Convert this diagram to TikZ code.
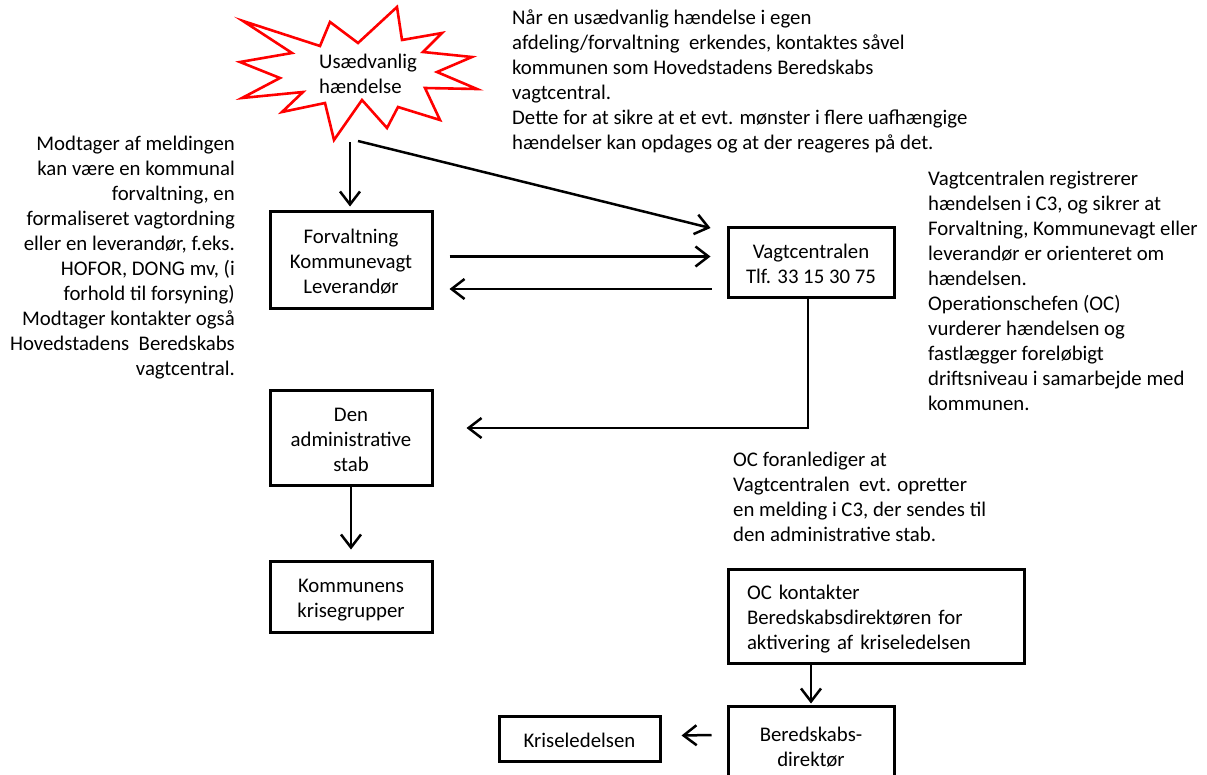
\documentclass[tikz,border=0pt]{standalone}
\usepackage{fontspec}
\setmainfont{Carlito}
\usetikzlibrary{arrows.meta,calc}
\newcommand\mytopstrut{\rule[-7.5pt]{0pt}{32pt}}
\newcommand\mybotstrut{\rule[-7.5pt]{0pt}{7.5pt}}
\begin{document}
\begin{tikzpicture}[x=1pt,y=-1pt,
  base/.style={font=\fontsize{20.8}{25}\selectfont, text=black},
  txt/.style={base, inner sep=0pt, align=left, execute at begin node=\strut},
  boxn/.style={base, draw, line width=3pt, align=center, inner sep=0pt},
  arr/.style={line width=2.5pt, -{Straight Barb[length=13pt,width=20pt]}}]
\useasboundingbox (0,0) rectangle (1207,774);
\fill[white] (0,0) rectangle (1207,774);
\clip (0,0) rectangle (1207,774);

% star
\draw[red, line width=2.6pt, line join=miter, fill=white]
  (243,21) -- (320,46) -- (330,22) -- (358,43) -- (397,7) -- (402,40) --
  (442,33) -- (423,52) -- (472,57) -- (437,72) -- (477,89) -- (425,88) --
  (440,120) -- (398,107) -- (387,128) -- (362,100) -- (334,140) -- (325,103) --
  (282,112) -- (303,92) -- (242,98) -- (280,78) -- (240,62) -- (292,53) -- cycle;
\node[txt, anchor=north west] (star) at (319,53.5) {Usædvanlig\\hændelse};

% boxes
\node[boxn, minimum width=162pt, minimum height=97pt] (forv) at (351,259.5) {\mytopstrut Forvaltning\\Kommunevagt\\Leverandør\mybotstrut};
\node[boxn, minimum width=166pt, minimum height=70pt] (vagt) at (811,262.5) {\mytopstrut Vagtcentralen\\Tlf. 33 15 30 75\mybotstrut};
\node[boxn, minimum width=162pt, minimum height=95pt] (admin) at (351,437.5) {\mytopstrut Den\\administrative\\stab\mybotstrut};
\node[boxn, minimum width=162pt, minimum height=71pt] (komm) at (351,596.5) {\mytopstrut Kommunens\\krisegrupper\mybotstrut};
\node[boxn, align=left, inner xsep=19pt, text width=258pt, minimum height=94pt] (ockont) at (876,616) {\mytopstrut OC kontakter\\Beredskabsdirektøren for\\aktivering af kriseledelsen\mybotstrut};
\node[boxn, minimum width=166pt, minimum height=78pt] (bered) at (811,745) {\mytopstrut Beredskabs-\\direktør\mybotstrut};
\node[boxn, minimum width=161pt, minimum height=45pt] (krise) at (579.5,739) {\mytopstrut Kriseledelsen\mybotstrut};

% texts
\node[txt, anchor=north west] (t1) at (512,9.5) {Når en usædvanlig hændelse i egen\\afdeling/forvaltning\ \ erkendes, kontaktes såvel\\kommunen som Hovedstadens Beredskabs\\vagtcentral.\\Dette for at sikre at et evt. mønster i flere uafhængige\\hændelser kan opdages og at der reageres på det.};
\node[txt, align=right, anchor=north east] (t2) at (235,135.5) {Modtager af meldingen\\kan være en kommunal\\forvaltning, en\\formaliseret vagtordning\\eller en leverandør, f.eks.\\HOFOR, DONG mv, (i\\forhold til forsyning)\\Modtager kontakter også\\Hovedstadens\ \ Beredskabs\\vagtcentral.};
\node[txt, anchor=north west] (t3) at (928,170.5) {Vagtcentralen registrerer\\hændelsen i C3, og sikrer at\\Forvaltning, Kommunevagt eller\\leverandør er orienteret om\\hændelsen.\\Operationschefen (OC)\\vurderer hændelsen og\\fastlægger foreløbigt\\driftsniveau i samarbejde med\\kommunen.};
\node[txt, anchor=north west] (t4) at (733,451.5) {OC foranlediger at\\Vagtcentralen\ \ evt. opretter\\en melding i C3, der sendes til\\den administrative stab.};

% connectors
\coordinate (s1) at (350,142);
\coordinate (s2) at (358,141);
\draw[arr] (s1) -- ($(s1 |- forv.north)+(0,-3)$);
\draw[arr] (s2) -- ($(vagt.north west)+(-16,2)$);
\draw[arr] ($(forv.east)+(16,-3)$) -- ($(forv.east -| vagt.west)+(-16,-3)$);
\draw[arr] ($(forv.east -| vagt.west)+(-15,29.5)$) -- ($(forv.east)+(16,29.5)$);
\draw[arr] ($(vagt.south)+(-3,0)$) |- ($(admin.east)+(33,-9.5)$);
\draw[arr] (admin.south) -- ($(komm.north)+(0,-10)$);
\draw[arr] (ockont.south -| bered.north) -- ($(bered.north)+(0,-1)$);
\draw[arr] ($(bered.west)+(-15,-10)$) -- ($(krise.east)+(20,-3.5)$);
\end{tikzpicture}
\end{document}
